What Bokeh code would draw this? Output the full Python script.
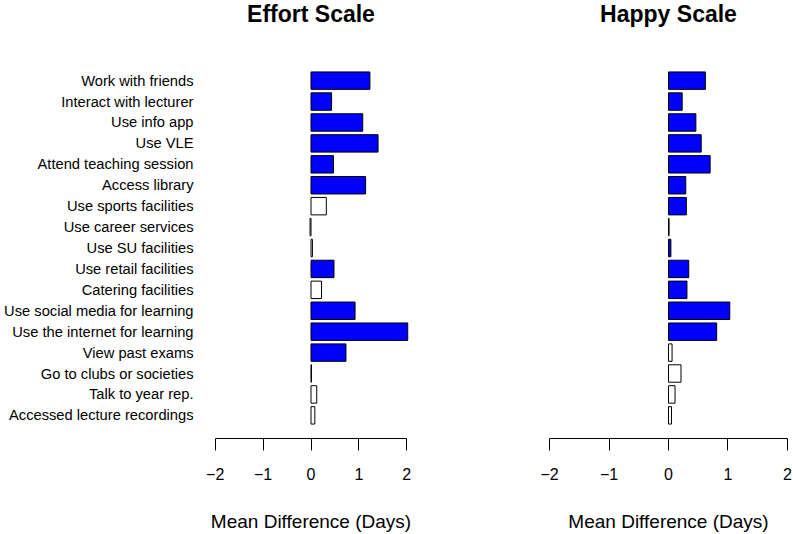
from bokeh.plotting import figure
from bokeh.layouts import row, column
from bokeh.models import FixedTicker, FactorRange, ColumnDataSource, Range1d
from bokeh.core.properties import value
from bokeh.embed import file_html
from bokeh.resources import INLINE

categories = ["Work with friends", "Interact with lecturer", "Use info app", "Use VLE",
              "Attend teaching session", "Access library", "Use sports facilities",
              "Use career services", "Use SU facilities", "Use retail facilities",
              "Catering facilities", "Use social media for learning",
              "Use the internet for learning", "View past exams", "Go to clubs or societies",
              "Talk to year rep.", "Accessed lecture recordings"]
effort = [1.23, 0.43, 1.08, 1.40, 0.47, 1.14, 0.32, -0.02, 0.03, 0.48, 0.22, 0.92, 2.02, 0.73, 0.01, 0.12, 0.08]
effort_sig = [1, 1, 1, 1, 1, 1, 0, 0, 0, 1, 0, 1, 1, 1, 0, 0, 0]
happy = [0.62, 0.23, 0.46, 0.55, 0.70, 0.29, 0.30, 0.01, 0.04, 0.34, 0.31, 1.03, 0.81, 0.06, 0.21, 0.11, 0.05]
happy_sig = [1, 1, 1, 1, 1, 1, 1, 0, 1, 1, 1, 1, 1, 0, 0, 0, 0]
ticks = [-2, -1, 0, 1, 2]
tick_labels = ["\u22122", "\u22121", "0", "1", "2"]
xlabel = "Mean Difference (Days)"
titles = ["Effort Scale", "Happy Scale"]

FONT = "Liberation Sans"
TH = 50          # height of the title strip
H = 534 - TH     # height of the chart panels

yr = FactorRange(factors=list(reversed(categories)), range_padding=0.607,
                 range_padding_units="absolute")


def make_title(title, xr, width, mbl, mbr):
    t = figure(width=width, height=TH, x_range=xr, y_range=Range1d(0, TH),
               output_backend="svg", toolbar_location=None,
               x_axis_location=None, y_axis_location=None,
               min_border_left=mbl, min_border_right=mbr,
               min_border_top=0, min_border_bottom=0)
    t.outline_line_color = None
    t.xgrid.visible = False
    t.ygrid.visible = False
    t.text(x=[0], y=[TH - 13.5], text=[title], text_align="center",
           text_baseline="alphabetic", text_font=value(FONT),
           text_font_size="23px", text_font_style="bold", text_color="black")
    return t


def make(vals, sig, xr, width, mbl, mbr, show_labels):
    fills = ["#0000FF" if s else "#FFFFFF" for s in sig]
    src = ColumnDataSource(dict(cat=categories, val=vals, fill=fills))
    p = figure(width=width, height=H, y_range=yr, x_range=xr, output_backend="svg",
               toolbar_location=None, min_border_left=mbl, min_border_right=mbr,
               min_border_top=57 - TH, min_border_bottom=95)
    p.hbar(y="cat", left=0, right="val", height=0.833, fill_color="fill",
           line_color="black", line_width=1, source=src)
    p.outline_line_color = None
    p.xgrid.visible = False
    p.ygrid.visible = False
    xa = p.xaxis[0]
    xa.bounds = (-2, 2)
    xa.ticker = FixedTicker(ticks=ticks)
    xa.major_label_overrides = {t: l for t, l in zip(ticks, tick_labels)}
    xa.major_tick_in = 0
    xa.major_tick_out = 12
    xa.minor_tick_line_color = None
    xa.axis_line_color = "black"
    xa.major_tick_line_color = "black"
    xa.major_label_text_font = FONT
    xa.major_label_text_font_size = "16px"
    xa.major_label_text_color = "black"
    xa.major_label_standoff = 17
    xa.axis_label = xlabel
    xa.axis_label_text_font = FONT
    xa.axis_label_text_font_size = "19px"
    xa.axis_label_text_font_style = "normal"
    xa.axis_label_text_color = "black"
    xa.axis_label_standoff = 28
    ya = p.yaxis[0]
    if show_labels:
        ya.axis_line_color = None
        ya.major_tick_line_color = None
        ya.minor_tick_line_color = None
        ya.major_tick_out = 0
        ya.major_tick_in = 0
        ya.major_label_text_font = FONT
        ya.major_label_text_font_size = "14.7px"
        ya.major_label_text_color = "black"
        ya.major_label_standoff = 12
    else:
        ya.visible = False
    return p


xr1 = Range1d(-2.203, 2.203)
xr2 = Range1d(-2.034, 2.034)
t1 = make_title(titles[0], xr1, 480, 205, 64)
t2 = make_title(titles[1], xr2, 313, 67, 4)
p1 = make(effort, effort_sig, xr1, 480, 205, 64, True)
p2 = make(happy, happy_sig, xr2, 313, 67, 4, False)

layout = column(row(t1, t2), row(p1, p2))
open("out.html", "w").write(file_html(layout, INLINE))
